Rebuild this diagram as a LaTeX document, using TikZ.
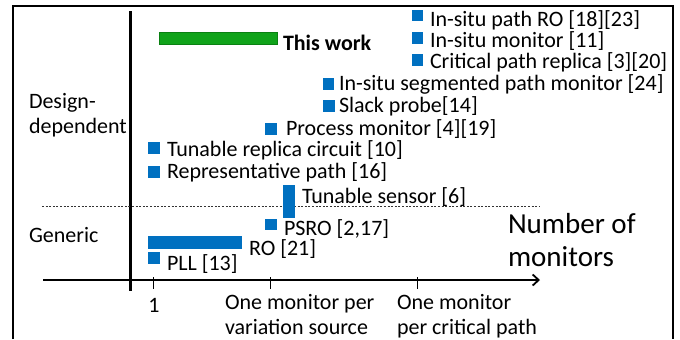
\documentclass[tikz,border=0pt]{standalone}
\usepackage{fontspec}
\setmainfont{Carlito}
\usetikzlibrary{arrows.meta}
\definecolor{monblue}{RGB}{0,112,192}
\definecolor{workgreen}{RGB}{16,163,26}
\definecolor{workedge}{RGB}{10,128,18}
\tikzset{
  sq/.style={draw=none, fill=monblue, minimum size=11.5bp, inner sep=0pt, outer sep=0pt},
  lbl/.style={anchor=base west, inner sep=0pt, outer sep=0pt, font=\fontsize{22bp}{25bp}\selectfont},
  twoline/.style={anchor=base west, inner sep=0pt, outer sep=0pt, align=left, font=\fontsize{22bp}{25bp}\selectfont},
  bigtxt/.style={anchor=base west, inner sep=0pt, outer sep=0pt, align=left, font=\fontsize{29bp}{33bp}\selectfont},
  tickline/.style={line width=0.9bp},
}
\begin{document}
\begin{tikzpicture}[x=1bp,y=-1bp]
\useasboundingbox (0,0) rectangle (680,339);

% outer frame (open at the bottom)
\draw[line width=2bp] (13,339) -- (13,5.5) -- (673,5.5) -- (673,339);

% axes
\coordinate (ytop) at (130,11);
\coordinate (ybot) at (130,291);
\coordinate (xs) at (43,280);
\coordinate (xe) at (540,280);
\draw[line width=3bp] (ytop) -- (ybot);
\draw[line width=2.2bp, -{Straight Barb[length=6bp,width=11bp,line width=1.8bp]}] (xs) -- (xe);

% ticks
\coordinate (t1a) at (153.5,277); \coordinate (t1b) at (153.5,289);
\coordinate (t2a) at (270,277);   \coordinate (t2b) at (270,289);
\coordinate (t3a) at (417,277);   \coordinate (t3b) at (417,289);
\draw[tickline] (t1a) -- (t1b);
\draw[tickline] (t2a) -- (t2b);
\draw[tickline] (t3a) -- (t3b);

% separator between design-dependent and generic monitors
\coordinate (ds) at (42,206);
\coordinate (de) at (540,206);
\draw[line width=0.6bp, dash pattern=on 2bp off 1.6bp, black!80] (ds) -- (de);

% category labels (base anchor = baseline of the last line)
\node[twoline] (dd) at (29,133) {Design-\\dependent};
\node[lbl] (gen) at (29,242.3) {Generic};

% axis labels
\node[bigtxt] (nm) at (508,266) {Number of\\monitors};
\node[anchor=base, inner sep=0pt, font=\fontsize{22bp}{25bp}\selectfont] (one) at (154,312) {1};
\node[twoline] (vs) at (225,334) {One monitor per\\variation source};
\node[twoline] (cp) at (397,334) {One monitor\\per critical path};

% this work
\node[draw=workedge, fill=workgreen, line width=0.8bp, minimum width=118bp, minimum height=12bp, inner sep=0pt, anchor=north west] (tw) at (159,32) {};
\node[lbl, font=\fontsize{22bp}{25bp}\selectfont\bfseries] (twl) at (283,50) {This work};

% design-dependent monitors
\node[sq] (isr) at (417.5,15.5) {};
\node[lbl] (isrl) at (430,26.5) {In-situ path RO [18][23]};
\node[sq] (ism) at (417.5,38) {};
\node[lbl] (isml) at (430,47) {In-situ monitor [11]};
\node[sq] (cpr) at (417.5,60) {};
\node[lbl] (cprl) at (430,68.5) {Critical path replica [3][20]};
\node[sq] (isp) at (328.5,84) {};
\node[lbl] (ispl) at (339,90.5) {In-situ segmented path monitor [24]};
\node[sq] (slk) at (329,106) {};
\node[lbl] (slkl) at (339,112.5) {Slack probe[14]};
\node[sq] (pm) at (271,129) {};
\node[lbl] (pml) at (286,135) {Process monitor [4][19]};
\node[sq] (trc) at (154,148) {};
\node[lbl] (trcl) at (167,156.5) {Tunable replica circuit [10]};
\node[sq] (rep) at (154,172) {};
\node[lbl] (repl) at (167,178.5) {Representative path [16]};

% tunable sensor spans both categories
\node[sq, minimum width=12bp, minimum height=33bp, anchor=north west] (ts) at (283,185) {};
\node[lbl] (tsl) at (302,203.5) {Tunable sensor [6]};

% generic monitors
\node[sq] (psro) at (271,224.5) {};
\node[lbl] (psrol) at (284,235.5) {PSRO [2,17]};
\node[sq, minimum width=94bp, minimum height=13bp, anchor=north west] (ro) at (148,236) {};
\node[lbl] (rol) at (249,255) {RO [21]};
\node[sq] (pll) at (154,258) {};
\node[lbl] (plll) at (167,270) {PLL [13]};
\end{tikzpicture}
\end{document}
